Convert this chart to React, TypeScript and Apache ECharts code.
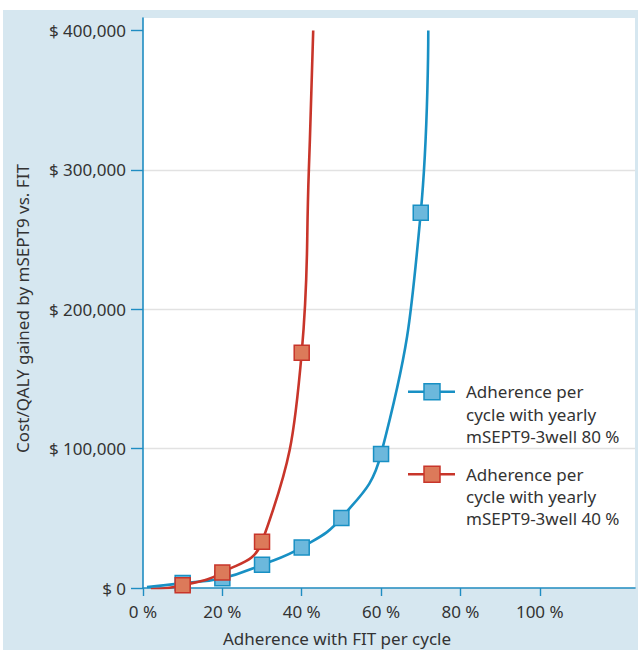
import React, { useEffect, useRef } from "react";
import * as echarts from "echarts";

// Marker values
const adherenceBlue = [10, 20, 30, 40, 50, 60, 70];
const costBlue = [3500, 7000, 16700, 29100, 50300, 96200, 269300];
const adherenceRed = [10, 20, 30, 40];
const costRed = [2000, 11100, 33200, 168800];

// Points (start, markers, top ends)
const blueCurveX = [1, 10, 20, 30, 40, 50, 60, 70, 71.9];
const blueCurveY = [700, 3500, 7000, 16700, 29100, 50300, 96200, 269300, 400000];
const redCurveX = [2, 10, 20, 30, 40, 41.8, 42.9];
const redCurveY = [-1000, 2000, 11100, 33200, 168800, 300000, 400000];

const xTicks = [0, 20, 40, 60, 80, 100];
const yTicks = [0, 100000, 200000, 300000, 400000];

const legendLines1 = ["Adherence per", "cycle with yearly", "mSEPT9-3well 80 %"];
const legendLines2 = ["Adherence per", "cycle with yearly", "mSEPT9-3well 40 %"];

const xTitle = "Adherence with FIT per cycle";
const yTitle = "Cost/QALY gained by mSEPT9 vs. FIT";

const FONT = "Noto Sans";
const TEXT = "#333333";
const AXIS = "#1f8dc2";
const BLUE = "#1890c4";
const BLUE_FILL = "#6cb8dc";
const RED = "#c8352a";
const RED_FILL = "#dc7a5a";

export default function App() {
  const ref = useRef<HTMLDivElement>(null);
  useEffect(() => {
    if (!ref.current) return;
    const chart = echarts.init(ref.current, undefined, { renderer: "svg" });
    const legendItem = (y: number, color: string, fill: string, lines: string[]) => [
      {
        type: "line",
        shape: { x1: 405, y1: y, x2: 452, y2: y },
        style: { stroke: color, lineWidth: 2.6 },
        z: 10,
      },
      {
        type: "rect",
        shape: { x: 421, y: y - 8, width: 16, height: 16 },
        style: { fill, stroke: color, lineWidth: 1.5 },
        z: 11,
      },
      {
        type: "text",
        x: 463,
        y: y + 22.3,
        style: {
          text: lines.join("\n"),
          font: `17px "${FONT}"`,
          fill: TEXT,
          lineHeight: 22.3,
          textAlign: "left",
          textVerticalAlign: "middle",
        },
        z: 11,
      },
    ];
    chart.setOption({
      animation: false,
      backgroundColor: "#d6e7f0",
      textStyle: { fontFamily: FONT },
      grid: {
        left: 140,
        right: 3,
        top: 8,
        bottom: 62,
        show: true,
        backgroundColor: "#ffffff",
        borderWidth: 0,
      },
      xAxis: {
        type: "value",
        min: 0,
        max: 124,
        interval: 20,
        axisLine: { show: true, onZero: false, lineStyle: { color: AXIS, width: 1.6 } },
        axisTick: {
          show: true,
          length: 8,
          customValues: xTicks,
          lineStyle: { color: AXIS, width: 1.4 },
        },
        axisLabel: {
          customValues: xTicks,
          margin: 15,
          color: TEXT,
          fontSize: 17,
          fontFamily: FONT,
          formatter: (v: number) => (v <= 100 && v % 20 === 0 ? `${v} %` : ""),
        },
        splitLine: { show: false },
      },
      yAxis: {
        type: "value",
        min: 0,
        max: 409000,
        interval: 100000,
        axisLine: { show: true, onZero: false, lineStyle: { color: AXIS, width: 1.6 } },
        axisTick: {
          show: true,
          length: 12,
          customValues: yTicks,
          lineStyle: { color: AXIS, width: 1.4 },
        },
        axisLabel: {
          customValues: yTicks,
          margin: 17,
          color: TEXT,
          fontSize: 17,
          fontFamily: FONT,
          formatter: (v: number) =>
            v % 100000 === 0 ? "$ " + v.toLocaleString("en-US") : "",
        },
        splitLine: {
          show: true,
          showMaxLine: false,
          lineStyle: {
            color: ["#e2e2e2", "#e2e2e2", "#e2e2e2", "#e2e2e2", "#a8a8a8"],
            width: 1.4,
          },
        },
      },
      series: [
        {
          type: "line",
          data: blueCurveX.map((x, i) => [x, blueCurveY[i]]),
          smooth: 0.45,
          symbol: "none",
          lineStyle: { color: BLUE, width: 2.6 },
          z: 2,
        },
        {
          type: "scatter",
          data: adherenceBlue.map((x, i) => [x, costBlue[i]]),
          symbol: "rect",
          symbolSize: 15,
          itemStyle: { color: BLUE_FILL, borderColor: BLUE, borderWidth: 1.5, opacity: 1 },
          z: 3,
        },
        {
          type: "line",
          data: redCurveX.map((x, i) => [x, redCurveY[i]]),
          smooth: 0.45,
          symbol: "none",
          lineStyle: { color: RED, width: 2.6 },
          z: 4,
        },
        {
          type: "scatter",
          data: adherenceRed.map((x, i) => [x, costRed[i]]),
          symbol: "rect",
          symbolSize: 15,
          itemStyle: { color: RED_FILL, borderColor: RED, borderWidth: 1.5, opacity: 1 },
          z: 5,
        },
      ],
      graphic: [
        ...legendItem(381.7, BLUE, BLUE_FILL, legendLines1),
        ...legendItem(464.2, RED, RED_FILL, legendLines2),
        {
          type: "text",
          x: 334,
          y: 628.4,
          style: {
            text: xTitle,
            font: `17px "${FONT}"`,
            fill: TEXT,
            textAlign: "center",
            textVerticalAlign: "middle",
          },
        },
        {
          type: "text",
          x: 19.7,
          y: 298.5,
          rotation: Math.PI / 2,
          style: {
            text: yTitle,
            font: `17px "${FONT}"`,
            fill: TEXT,
            textAlign: "center",
            textVerticalAlign: "middle",
          },
        },
      ],
    });
    return () => chart.dispose();
  }, []);
  return (
    <div style={{ position: "fixed", left: 0, top: 0, width: 638, height: 650, background: "#ffffff" }}>
      <div ref={ref} style={{ position: "absolute", left: 3, top: 10, width: 635, height: 640 }} />
    </div>
  );
}
